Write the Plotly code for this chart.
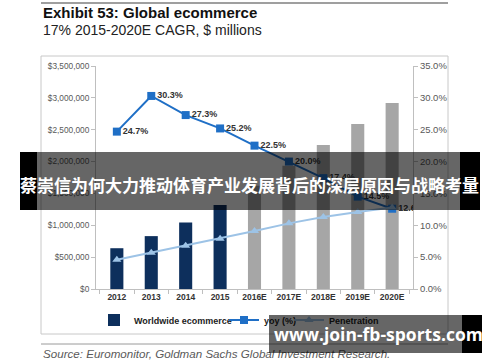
import plotly.graph_objects as go

# ---------------- data ----------------
years = ["2012", "2013", "2014", "2015", "2016E", "2017E", "2018E", "2019E", "2020E"]
ecommerce = [640000, 830000, 1045000, 1320000, 1620000, 1935000, 2260000, 2590000, 2920000]
is_estimate = [False, False, False, False, True, True, True, True, True]
yoy = [24.7, 30.3, 27.3, 25.2, 22.5, 20.0, 17.4, 14.5, 12.6]
penetration = [4.6, 5.7, 6.8, 7.9, 9.1, 10.3, 11.3, 12.1, 12.8]

title = "Exhibit 53: Global ecommerce"
subtitle = "17% 2015-2020E CAGR, $ millions"
source = "Source: Euromonitor, Goldman Sachs Global Investment Research."
overlay_text = "蔡崇信为何大力推动体育产业发展背后的深层原因与战略考量"
watermark_text = "www.join-fb-sports.com"

# ---------------- geometry helpers ----------------
W, H = 500, 362
PL, PR, PT, PB = 96, 413, 66, 289


def px(x):
    return (x - PL) / (PR - PL)


def py(y):
    return (PB - y) / (PB - PT)


NAVY = "#0d2f5c"
GRAY_BAR = "#a6a6a6"
YOY = "#1f6fc6"
PEN = "#9dc3e6"
AXIS = "#bfbfbf"
TICKTXT = "#595959"
LEGFONT = dict(family="Liberation Sans", size=9, color="#222222", weight="bold")

actual_vals = [v if not e else None for v, e in zip(ecommerce, is_estimate)]
est_vals = [v if e else None for v, e in zip(ecommerce, is_estimate)]

fig = go.Figure()
fig.add_trace(go.Bar(x=years, y=actual_vals, name="Worldwide ecommerce", legend="legend",
                     marker=dict(color=NAVY, line=dict(width=0)), width=0.38))
fig.add_trace(go.Bar(x=years, y=est_vals, name="Worldwide ecommerce (E)", showlegend=False,
                     marker=dict(color=GRAY_BAR, line=dict(width=0)), width=0.38))
fig.add_trace(go.Scatter(x=years, y=yoy, name="yoy (%)", yaxis="y2", mode="lines+markers+text",
                         legend="legend2",
                         line=dict(color=YOY, width=2),
                         marker=dict(symbol="square", size=8, color=YOY),
                         text=[f"{v:.1f}%" for v in yoy], textposition="middle right",
                         textfont=dict(family="Liberation Sans", size=9, color="#333333", weight="bold")))
fig.add_trace(go.Scatter(x=years, y=penetration, name="Penetration", yaxis="y2", mode="lines+markers",
                         legend="legend3",
                         line=dict(color=PEN, width=2),
                         marker=dict(symbol="triangle-up", size=8, color=PEN)))

shapes = [
    # chart frame
    dict(type="rect", xref="paper", yref="paper", x0=px(41), x1=px(448), y0=py(56), y1=py(334),
         line=dict(color="#c8c8c8", width=1), fillcolor="rgba(0,0,0,0)", layer="below"),
    # top rule
    dict(type="line", xref="paper", yref="paper", x0=px(41), x1=px(448), y0=py(3), y1=py(3),
         line=dict(color="#7f7f7f", width=1.5)),
    # source rule
    dict(type="line", xref="paper", yref="paper", x0=px(41), x1=px(448), y0=py(344), y1=py(344),
         line=dict(color="#9a9a9a", width=1)),
    # overlay band
    dict(type="rect", xref="paper", yref="paper", x0=px(20), x1=px(37), y0=py(152), y1=py(210),
         line=dict(width=0), fillcolor="#000000", layer="above"),
    dict(type="rect", xref="paper", yref="paper", x0=px(37), x1=px(460), y0=py(152), y1=py(210),
         line=dict(width=0), fillcolor="rgba(0,0,0,0.6)", layer="above"),
    dict(type="rect", xref="paper", yref="paper", x0=px(460), x1=px(480), y0=py(152), y1=py(210),
         line=dict(width=0), fillcolor="#000000", layer="above"),
]

annotations = [
    dict(text=title, x=px(41), y=py(13), xref="paper", yref="paper", xanchor="left", yanchor="middle",
         showarrow=False, font=dict(family="Liberation Sans", size=15, color="#111111", weight="bold")),
    dict(text=subtitle, x=px(41), y=py(30), xref="paper", yref="paper", xanchor="left", yanchor="middle",
         showarrow=False, font=dict(family="Liberation Sans", size=14, color="#222222")),
    dict(text=source, x=px(41), y=py(353), xref="paper", yref="paper", xanchor="left", yanchor="middle",
         showarrow=False, font=dict(family="Liberation Sans", size=11.6, color="#5a5a5a", style="italic")),
    dict(text=overlay_text, x=px(249), y=py(184), xref="paper", yref="paper", xanchor="center",
         yanchor="middle", showarrow=False,
         font=dict(family="Noto Sans CJK SC", size=17, color="#ffffff", weight="bold")),
    # watermark boxes (annotations so they sit above the legend)
    dict(text=" ", x=px(269), y=py(315), xref="paper", yref="paper", xanchor="left", yanchor="top",
         width=193, height=38, borderpad=0, borderwidth=0, bgcolor="rgba(0,0,0,0.6)", showarrow=False),
    dict(text=" ", x=px(462), y=py(315), xref="paper", yref="paper", xanchor="left", yanchor="top",
         width=20, height=38, borderpad=0, borderwidth=0, bgcolor="#000000", showarrow=False),
    dict(text=watermark_text, x=px(378), y=py(334), xref="paper", yref="paper", xanchor="center",
         yanchor="middle", showarrow=False,
         font=dict(family="Open Sans", size=17.5, color="#ffffff", weight="bold")),
]


def leg(xpix):
    return dict(orientation="h", x=px(xpix), y=py(320), xanchor="left", yanchor="middle",
                font=LEGFONT, bgcolor="rgba(0,0,0,0)", borderwidth=0, itemwidth=30)


fig.update_layout(
    width=W, height=H, autosize=False,
    margin=dict(l=PL, r=W - PR, t=PT, b=H - PB, pad=0),
    paper_bgcolor="white", plot_bgcolor="white",
    barmode="overlay",
    showlegend=True,
    legend=leg(94),
    legend2=leg(224),
    legend3=leg(289),
    xaxis=dict(type="category", showgrid=False, showline=True, linecolor=AXIS, linewidth=1,
               ticks="outside", tickson="boundaries", ticklen=4, tickcolor=AXIS,
               tickfont=dict(family="Liberation Sans", size=8.5, color="#333333", weight="bold")),
    yaxis=dict(range=[0, 3500000], dtick=500000, tickformat="$,.0f", showgrid=False, zeroline=False,
               showline=True, linecolor=AXIS, linewidth=1, ticks="outside", ticklen=4, tickcolor=AXIS,
               tickfont=dict(family="Liberation Sans", size=8.3, color=TICKTXT)),
    yaxis2=dict(range=[0, 35], dtick=5, overlaying="y", side="right", tickformat=".1f", ticksuffix="%",
                showgrid=False, zeroline=False, showline=True, linecolor=AXIS, linewidth=1,
                ticks="outside", ticklen=4, tickcolor=AXIS,
                tickfont=dict(family="Liberation Sans", size=9.5, color=TICKTXT)),
    shapes=shapes,
    annotations=annotations,
)

fig.write_html("out.html", config={"displayModeBar": False},
               post_script="document.body.style.margin='0';")
